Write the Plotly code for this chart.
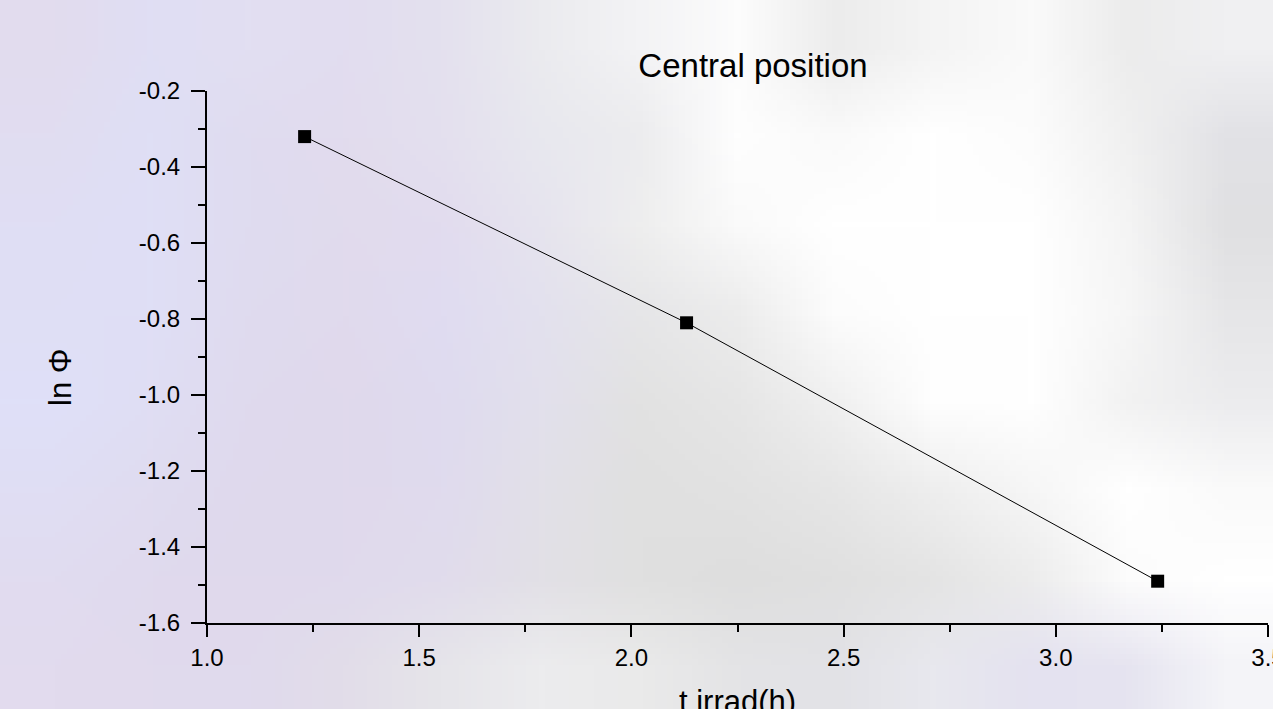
import base64
import struct
import zlib

import plotly.graph_objects as go

# ---- data ----
t_irrad = [1.23, 2.13, 3.24]
ln_phi = [-0.32, -0.81, -1.49]
x_ticks = [1.0, 1.5, 2.0, 2.5, 3.0, 3.5]
x_tick_labels = ["1.0", "1.5", "2.0", "2.5", "3.0", "3.5"]
y_ticks = [-1.6, -1.4, -1.2, -1.0, -0.8, -0.6, -0.4, -0.2]
y_tick_labels = ["-1.6", "-1.4", "-1.2", "-1.0", "-0.8", "-0.6", "-0.4", "-0.2"]

# ---- blurred backdrop (decoration only) ----
bg_rows = [
    "e2dcee e0def4 e2dff2 e2ddf0 e4e1ee ebebef f3f3f5 fcfcfc ececec f4f4f4 fafafa ececec f0f0f2",
    "e1ddf1 dfdff5 e0dcf0 e2dcee e4e0ee e8e8ee ececee fefefe fafafa ffffff fcfcfc f0f0f0 e2e2e6",
    "e0def4 dfdff6 dfdcf0 e1dbed e2dcef e6e4ee eeeeee fafafa ffffff ffffff ffffff f4f4f4 e0e0e2",
    "dfdff5 e0dff6 dfdbef e1daed e0dcf1 e3e1ee e6e6e8 ececec fcfcfc ffffff ffffff f6f6f6 e6e6e8",
    "dfe0f8 e0def4 dfdaee e0d9ec dfdbef e2e0ec e2e2e2 e6e6e6 f0f0f0 fefefe ffffff f2f2f2 ececee",
    "e0def4 e0dcf0 dfd9ed e0d9ec e0dbee e2e0e8 e0e0e0 e2e2e2 e6e6e6 eeeeee f6f6f6 ffffff fafafa",
    "e1dcf0 e0daee e0d9ec e0daed e1dcec e2e0e6 e0e0e0 dedede e0e0e0 e4e4e4 ececec fcfcfc ffffff",
    "e2dbee e1daed e0daed e2dde9 e6e5ea ececee eaeaea e4e4e6 e2e2e6 e8e8ee e4e2f0 e6e4f0 f4f4f8",
]


def make_png(rows):
    grid = [r.split() for r in rows]
    h = len(grid)
    w = len(grid[0])
    raw = b""
    for r in grid:
        raw += b"\x00" + b"".join(bytes.fromhex(c) for c in r)

    def chunk(tag, data):
        c = struct.pack(">I", len(data)) + tag + data
        return c + struct.pack(">I", zlib.crc32(tag + data) & 0xFFFFFFFF)

    png = b"\x89PNG\r\n\x1a\n"
    png += chunk(b"IHDR", struct.pack(">IIBBBBB", w, h, 8, 2, 0, 0, 0))
    png += chunk(b"IDAT", zlib.compress(raw, 9))
    png += chunk(b"IEND", b"")
    return "data:image/png;base64," + base64.b64encode(png).decode()


W, H = 1273, 709
ML, MR, MT, MB = 207, 5, 91, 86
PW, PH = W - ML - MR, H - MT - MB

FONT = "Liberation Sans, Arial, sans-serif"

fig = go.Figure()
fig.add_trace(
    go.Scatter(
        x=t_irrad,
        y=ln_phi,
        mode="lines+markers",
        line=dict(color="black", width=1),
        marker=dict(symbol="square", size=13, color="black"),
        showlegend=False,
    )
)

fig.update_layout(
    width=W,
    height=H,
    margin=dict(l=ML, r=MR, t=MT, b=MB, autoexpand=False),
    paper_bgcolor="#ececf0",
    plot_bgcolor="rgba(0,0,0,0)",
    font=dict(family=FONT, color="black"),
    title=dict(
        text="Central position",
        font=dict(size=33, family=FONT, color="black"),
        x=753 / W,
        xanchor="center",
        xref="container",
        y=1 - 65 / H,
        yanchor="middle",
        yref="container",
    ),
    images=[
        dict(
            source=make_png(bg_rows),
            xref="paper",
            yref="paper",
            x=-ML / PW,
            y=1 + MT / PH,
            sizex=W / PW,
            sizey=H / PH,
            sizing="stretch",
            xanchor="left",
            yanchor="top",
            layer="below",
        )
    ],
    xaxis=dict(
        range=[1.0, 3.5],
        automargin=False,
        tickmode="array",
        tickvals=x_ticks,
        ticktext=x_tick_labels,
        ticks="outside",
        ticklen=12,
        tickwidth=2,
        tickcolor="black",
        showline=True,
        linewidth=2,
        linecolor="black",
        showgrid=False,
        zeroline=False,
        tickfont=dict(size=24, family=FONT, color="black"),
        ticklabeloverflow="allow",
        minor=dict(ticks="outside", ticklen=7, tickwidth=2, tickcolor="black", dtick=0.25, tick0=1.0, showgrid=False),
    ),
    yaxis=dict(
        range=[-1.6, -0.2],
        automargin=False,
        tickmode="array",
        tickvals=y_ticks,
        ticktext=y_tick_labels,
        ticks="outside",
        ticklen=14,
        tickwidth=2,
        tickcolor="black",
        showline=True,
        linewidth=2,
        linecolor="black",
        showgrid=False,
        zeroline=False,
        tickfont=dict(size=24, family=FONT, color="black"),
        ticklabelstandoff=6,
        minor=dict(ticks="outside", ticklen=7, tickwidth=2, tickcolor="black", dtick=0.1, tick0=-1.6, showgrid=False),
    ),
    annotations=[
        dict(
            text="t irrad(h)",
            xref="paper",
            yref="paper",
            x=0.5,
            y=-(682 - (MT + PH)) / PH,
            xanchor="center",
            yanchor="top",
            showarrow=False,
            font=dict(size=31, family=FONT, color="black"),
        ),
        dict(
            text="ln Φ",
            xref="paper",
            yref="paper",
            x=-(ML - 60) / PW,
            y=1 - (378 - MT) / PH,
            xanchor="center",
            yanchor="middle",
            textangle=-90,
            showarrow=False,
            font=dict(size=31, family=FONT, color="black"),
        ),
    ],
)

fig.write_html(
    "out.html",
    config={"displayModeBar": False},
    post_script="document.body.style.margin='0';document.body.style.overflow='hidden';",
)
